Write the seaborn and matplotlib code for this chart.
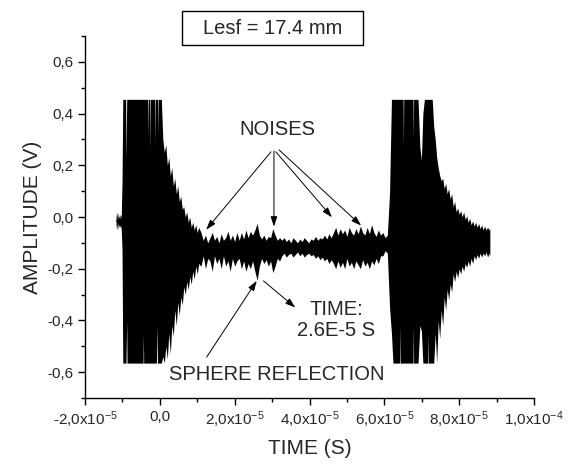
import numpy as np
import pandas as pd
import matplotlib
matplotlib.use("Agg")
import matplotlib.pyplot as plt
import seaborn as sns
from matplotlib.patches import Rectangle
from matplotlib.ticker import FixedLocator, FixedFormatter, MultipleLocator

# ---------------- data ----------------
# oscilloscope trace shown as peak-detect envelope: time (microseconds), upper and lower amplitude (V)
time_us = [
    -11.7, -11.5, -11.3, -11.1, -10.9, -10.7, -10.5, -10.3, -10.1,
    -9.9, -9.13, -9.05, -8.85, -8.77, -6.0, -4.48, -4.4, -4.32, -3.24, -3.16, -3.08,
    -2.7, -2.62, -2.54, -1.36, -1.28, -1.2, -0.91, -0.83, -0.63, -0.55, -0.47, 0.0,
    0.4, 0.8, 1.2, 1.6, 2.0, 2.4, 2.8, 3.2, 3.6, 4.0, 4.4, 4.8, 5.2, 5.6, 6.0, 6.4,
    6.8, 7.2, 7.6, 8.0, 8.4, 8.8, 9.2, 9.6, 10.0, 10.4,
    11.0, 11.6, 12.2, 12.8, 13.4, 14.0, 14.6, 15.2, 15.8, 16.4, 17.0, 17.6, 18.2, 18.8, 19.4, 20.0, 20.6,
    21.2, 21.8, 22.4, 23.0, 23.6, 24.2, 24.8, 25.4, 26.0, 26.6,
    27.2, 27.8, 28.4, 29.0, 29.6, 30.2, 30.8, 31.4, 32.0,
    32.6, 33.2, 33.8, 34.4, 35.0, 35.6, 36.2, 36.8, 37.4, 38.0, 38.6, 39.2, 39.8, 40.4, 41.0, 41.6,
    42.2, 42.8, 43.4, 44.0, 44.6, 45.2, 45.8,
    46.4, 47.0, 47.6, 48.2, 48.8, 49.4, 50.0, 50.6, 51.2, 51.8, 52.4, 53.0, 53.6, 54.2, 54.8, 55.4,
    56.0, 56.6, 57.2, 57.8, 58.4, 59.0,
    59.6, 60.2, 60.8,
    61.4, 61.9, 62.3, 64.12, 64.2, 64.28, 65.02, 65.1, 65.18, 67.67, 67.75, 67.83, 69.0,
    69.5, 69.9, 70.3, 70.7, 71.62, 71.7, 71.78, 72.8,
    73.2, 73.6, 74.0, 74.4, 74.8, 75.2, 75.6, 76.0, 76.4, 76.8, 77.2, 77.6, 78.0, 78.4, 78.8, 79.2,
    79.6, 80.0, 80.4, 80.8, 81.2, 81.6, 82.0, 82.4, 82.8, 83.2, 83.6, 84.0, 84.4, 84.8, 85.2, 85.6,
    86.0, 86.4, 86.8, 87.2, 87.6, 88.0, 88.2,
]
upper_v = [
    0.00, 0.02, -0.01, 0.015, -0.005, 0.01, -0.01, 0.005, 0.14,
    0.455, 0.455, 0.22, 0.455, 0.455, 0.455, 0.455, 0.455, 0.455, 0.455, 0.30, 0.455,
    0.455, 0.25, 0.455, 0.455, 0.28, 0.455, 0.455, 0.455, 0.455, 0.32, 0.455, 0.455,
    0.455, 0.30, 0.25, 0.28, 0.20, 0.23, 0.16, 0.19, 0.12, 0.15, 0.09, 0.12, 0.06, 0.08, 0.03, 0.04,
    0.0, 0.02, -0.02, 0.0, -0.04, -0.02, -0.05, -0.03, -0.06, -0.04,
    -0.06, -0.09, -0.07, -0.10, -0.08, -0.06, -0.09, -0.075, -0.10, -0.065, -0.09, -0.08, -0.055, -0.09, -0.07, -0.095, -0.06,
    -0.09, -0.06, -0.085, -0.05, -0.08, -0.055, -0.07, -0.05, -0.025, -0.07,
    -0.085, -0.07, -0.09, -0.075, -0.08, -0.045, -0.07, -0.09, -0.08,
    -0.09, -0.08, -0.095, -0.085, -0.10, -0.08, -0.09, -0.10, -0.085, -0.095, -0.08, -0.09, -0.10, -0.085, -0.09, -0.075,
    -0.09, -0.08, -0.085, -0.07, -0.085, -0.065, -0.08,
    -0.06, -0.04, -0.07, -0.045, -0.065, -0.05, -0.075, -0.04, -0.06, -0.07, -0.045, -0.065, -0.035, -0.06, -0.07, -0.04,
    -0.065, -0.03, -0.06, -0.075, -0.05, -0.07,
    -0.06, -0.08, -0.07,
    0.095, 0.455, 0.455, 0.455, 0.455, 0.455, 0.455, 0.27, 0.455, 0.455, 0.30, 0.455, 0.455,
    0.27, 0.22, 0.40, 0.455, 0.455, 0.455, 0.455, 0.455,
    0.35, 0.30, 0.23, 0.19, 0.16, 0.14, 0.15, 0.11, 0.13, 0.09, 0.11, 0.07, 0.09, 0.04, 0.06, 0.02,
    0.035, 0.01, 0.025, 0.0, 0.02, -0.01, 0.005, -0.02, -0.005, -0.03, -0.015, -0.035, -0.02, -0.04, -0.025, -0.045,
    -0.03, -0.05, -0.035, -0.05, -0.04, -0.05, -0.045,
]
lower_v = [
    -0.03, -0.05, -0.02, -0.045, -0.03, -0.04, -0.03, -0.05, -0.13,
    -0.565, -0.565, -0.565, -0.40, -0.565, -0.565, -0.565, -0.45, -0.565, -0.565, -0.565, -0.565,
    -0.565, -0.565, -0.565, -0.565, -0.565, -0.565, -0.565, -0.42, -0.565, -0.565, -0.565, -0.565,
    -0.565, -0.54, -0.565, -0.50, -0.55, -0.45, -0.53, -0.42, -0.46, -0.36, -0.42, -0.33, -0.38, -0.31, -0.34, -0.27,
    -0.30, -0.25, -0.28, -0.23, -0.26, -0.21, -0.24, -0.19, -0.22, -0.18,
    -0.19, -0.15, -0.20, -0.16, -0.17, -0.21, -0.15, -0.18, -0.16, -0.20, -0.15, -0.19, -0.17, -0.21, -0.16, -0.19, -0.17,
    -0.16, -0.20, -0.17, -0.21, -0.18, -0.20, -0.17, -0.21, -0.245, -0.19,
    -0.16, -0.18, -0.165, -0.19, -0.17, -0.215, -0.19, -0.16, -0.17,
    -0.15, -0.14, -0.155, -0.145, -0.14, -0.155, -0.145, -0.135, -0.15, -0.14, -0.155, -0.145, -0.14, -0.15, -0.145, -0.16,
    -0.15, -0.165, -0.155, -0.17, -0.16, -0.18, -0.165,
    -0.18, -0.20, -0.17, -0.195, -0.175, -0.20, -0.16, -0.19, -0.175, -0.20, -0.17, -0.185, -0.20, -0.165, -0.19, -0.175,
    -0.20, -0.17, -0.185, -0.16, -0.18, -0.15,
    -0.15, -0.13, -0.14,
    -0.35, -0.45, -0.565, -0.565, -0.42, -0.565, -0.565, -0.565, -0.565, -0.565, -0.42, -0.565, -0.565,
    -0.42, -0.44, -0.565, -0.565, -0.565, -0.45, -0.565, -0.565,
    -0.565, -0.45, -0.565, -0.40, -0.47, -0.36, -0.42, -0.31, -0.36, -0.28, -0.32, -0.26, -0.29, -0.22, -0.25, -0.21,
    -0.235, -0.20, -0.22, -0.19, -0.21, -0.18, -0.195, -0.17, -0.19, -0.16, -0.18, -0.15, -0.165, -0.145, -0.16, -0.14,
    -0.155, -0.14, -0.15, -0.135, -0.155, -0.14, -0.15,
]
assert len(time_us) == len(upper_v) == len(lower_v)

x_ticks = [-2.0e-5, 0.0, 2.0e-5, 4.0e-5, 6.0e-5, 8.0e-5, 1.0e-4]
x_tick_labels = ["-2,0x10$^{-5}$", "0,0", "2,0x10$^{-5}$", "4,0x10$^{-5}$",
                 "6,0x10$^{-5}$", "8,0x10$^{-5}$", "1,0x10$^{-4}$"]
y_ticks = [-0.6, -0.4, -0.2, 0.0, 0.2, 0.4, 0.6]
y_tick_labels = ["-0,6", "-0,4", "-0,2", "0,0", "0,2", "0,4", "0,6"]

# ---------------- style ----------------
sns.set_style("ticks")
plt.rcParams["font.family"] = ["Liberation Sans", "DejaVu Sans"]
plt.rcParams["mathtext.default"] = "regular"
plt.rcParams["axes.unicode_minus"] = False

t_sec = np.array(time_us) * 1e-6
df = pd.DataFrame({
    "t": np.concatenate([t_sec, t_sec]),
    "v": np.concatenate([upper_v, lower_v]),
})

fig = plt.figure(figsize=(5.71, 4.66), dpi=100)
ax = fig.add_axes([85 / 571, 1 - 398 / 466, (534 - 85) / 571, (398 - 36) / 466])

sns.lineplot(data=df, x="t", y="v", estimator="mean", errorbar=("pi", 100),
             color="black", linewidth=0.6, ax=ax,
             err_kws={"alpha": 1.0, "linewidth": 0.0})

ax.set_xlim(-2.0e-5, 1.0e-4)
ax.set_ylim(-0.7, 0.7)
ax.xaxis.set_major_locator(FixedLocator(x_ticks))
ax.xaxis.set_major_formatter(FixedFormatter(x_tick_labels))
ax.xaxis.set_minor_locator(MultipleLocator(1.0e-5))
ax.yaxis.set_major_locator(FixedLocator(y_ticks))
ax.yaxis.set_major_formatter(FixedFormatter(y_tick_labels))
ax.yaxis.set_minor_locator(MultipleLocator(0.1))
ax.tick_params(which="major", direction="out", length=5, width=1, labelsize=11, color="black")
ax.tick_params(which="minor", direction="out", length=3, width=1, color="black")
sns.despine(ax=ax)
for s in ("left", "bottom"):
    ax.spines[s].set_linewidth(1.0)
    ax.spines[s].set_color("black")

ax.set_xlabel("TIME (S)", fontsize=15, labelpad=6)
ax.set_ylabel("AMPLITUDE (V)", fontsize=15, labelpad=4)

# ---------------- annotations ----------------
arrow = dict(arrowstyle="-|>,head_length=0.6,head_width=0.2", color="black",
             lw=0.7, shrinkA=0, shrinkB=0)
ax.text(3.13e-5, 0.339, "NOISES", fontsize=14.5, ha="center", va="center")
noise_starts = [(2.97e-5, 0.252), (3.05e-5, 0.255), (3.10e-5, 0.252), (3.19e-5, 0.259)]
noise_ends = [(1.24e-5, -0.049), (3.05e-5, -0.037), (4.60e-5, -0.001), (5.38e-5, -0.033)]
for (xs, ys), (xe, ye) in zip(noise_starts, noise_ends):
    ax.annotate("", xy=(xe, ye), xytext=(xs, ys), arrowprops=arrow)

ax.text(3.13e-5, -0.611, "SPHERE REFLECTION", fontsize=14.5, ha="center", va="center")
ax.annotate("", xy=(2.59e-5, -0.247), xytext=(1.25e-5, -0.542), arrowprops=arrow)

ax.text(4.71e-5, -0.399, "TIME:\n2.6E-5 S", fontsize=14.5, ha="center", va="center",
        linespacing=1.15)
ax.annotate("", xy=(3.62e-5, -0.35), xytext=(2.77e-5, -0.247), arrowprops=arrow)

# title box
fig.patches.append(Rectangle((181.7 / 571, 1 - 45 / 466), 181.6 / 571, 34.3 / 466,
                             transform=fig.transFigure, fill=True, facecolor="white",
                             edgecolor="black", linewidth=1.0, zorder=5))
fig.text(272.5 / 571, 1 - 28 / 466, "Lesf = 17.4 mm", fontsize=14.5, ha="center",
         va="center", zorder=6)

fig.savefig("out.png", dpi=100)
